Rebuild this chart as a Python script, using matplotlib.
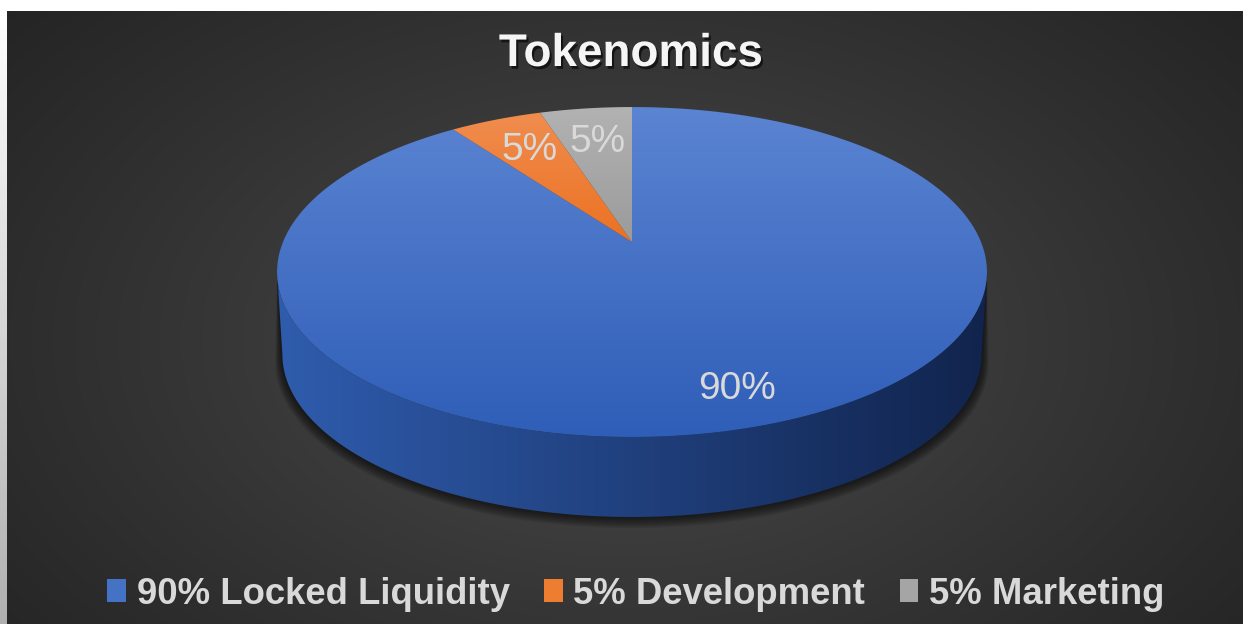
import numpy as np
import matplotlib
matplotlib.use("Agg")
import matplotlib.pyplot as plt
from matplotlib.patches import Polygon, Patch
import matplotlib.patheffects as pe

# Chart data
labels = ["90% Locked Liquidity", "5% Development", "5% Marketing"]
shares = [90, 5, 5]
pct_text = ["90%", "5%", "5%"]
title = "Tokenomics"

top_colors = [("#5b84d2", "#2f5eb8"), ("#f08d4f", "#ec7122"), ("#b2b2b2", "#9b9b9b")]
legend_colors = ["#4472c4", "#ed7d31", "#a5a5a5"]

W, H = 1243, 624
fig = plt.figure(figsize=(W / 100, H / 100), dpi=100)
fig.patch.set_facecolor("white")
ax = fig.add_axes([0, 0, 1, 1])
ax.set_xlim(0, W)
ax.set_ylim(H, 0)
ax.axis("off")

# background panel with radial gradient
x0, y0 = 7, 11
gx, gy = np.meshgrid(np.linspace(x0, W, 300), np.linspace(y0, H, 200))
rr = np.sqrt(((gx - 625) / 820) ** 2 + ((gy - 340) / 520) ** 2)
rr = np.clip(rr, 0, 1) ** 0.85
c_in, c_out = np.array([0x4e, 0x4e, 0x4e]) / 255, np.array([0x24, 0x24, 0x24]) / 255
bg = c_in[None, None, :] * (1 - rr[..., None]) + c_out[None, None, :] * rr[..., None]
ax.imshow(bg, extent=(x0, W, H, y0), aspect="auto", zorder=0, interpolation="bilinear")

# left edge strip
strip = np.linspace(1.0, 0.69, 100)[:, None, None] * np.ones((1, 1, 3))
ax.imshow(strip, extent=(0, x0, H, y0), aspect="auto", zorder=0)

# pie geometry (perspective projection of a disc)
cx, cy = 632, 242
A, B, p = 349, 159.5, 0.1818
depth = 83
shrink = 0.985


def proj(theta, r=1.0, drop=0.0, s=1.0):
    X = r * np.sin(theta)
    Y = r * np.cos(theta)
    w = 1 + p * Y
    return cx + s * A * X / w, cy - s * B * Y / w + drop


def gradient_fill(poly, c1, c2, horizontal=False, z=2):
    xs, ys = poly[:, 0], poly[:, 1]
    c1 = np.array(matplotlib.colors.to_rgb(c1))
    c2 = np.array(matplotlib.colors.to_rgb(c2))
    t = np.linspace(0, 1, 256)
    g = c1[None, :] * (1 - t[:, None]) + c2[None, :] * t[:, None]
    if horizontal:
        img = g[None, :, :]
    else:
        img = g[:, None, :]
    im = ax.imshow(img, extent=(xs.min(), xs.max(), ys.max(), ys.min()),
                   aspect="auto", zorder=z, interpolation="bilinear")
    patch = Polygon(poly, closed=True, facecolor="none", edgecolor="none", zorder=z)
    ax.add_patch(patch)
    im.set_clip_path(patch)


# side (front rim) between the silhouette points
t_side = np.arccos(-p)
ts = np.linspace(t_side, 2 * np.pi - t_side, 200)
tx, ty = proj(ts)
bx, by = proj(ts, drop=depth, s=shrink)
side = np.column_stack([np.concatenate([tx, bx[::-1]]), np.concatenate([ty, by[::-1]])])

# soft shadow under the rim
for k in range(8, 0, -1):
    sx, sy = proj(ts, drop=depth + k * 0.9, s=shrink + k * 0.0025)
    sh = np.column_stack([np.concatenate([tx, sx[::-1]]), np.concatenate([ty, sy[::-1]])])
    ax.add_patch(Polygon(sh, closed=True, facecolor="black", edgecolor="none",
                         alpha=0.09, zorder=1))

gradient_fill(side, "#2f5cad", "#11244d", horizontal=True, z=2)

# top faces
fracs = np.array(shares) / sum(shares)
start = 0.0
mids = []
for i, f in enumerate(fracs):
    end = start + f * 2 * np.pi
    ang = np.linspace(start, end, max(int(f * 400), 10))
    ax_, ay_ = proj(ang)
    poly = np.column_stack([np.concatenate([[cx], ax_]), np.concatenate([[cy], ay_])])
    gradient_fill(poly, top_colors[i][0], top_colors[i][1], z=3)
    mids.append((start + end) / 2)
    start = end

# data labels
for i, m in enumerate(mids):
    r = 0.83 if fracs[i] > 0.5 else 0.72
    lx, ly = proj(m, r=r)
    ax.text(lx, ly, pct_text[i], ha="center", va="center", fontsize=28,
            family="Liberation Sans", color="#d9d9d9", zorder=5)

# title
ax.text(631, 54, title, ha="center", va="center", fontsize=33, fontweight="bold",
        family="Liberation Sans", color="#f5f5f5", zorder=5,
        path_effects=[pe.withSimplePatchShadow(offset=(1.5, -2), shadow_rgbFace="black",
                                               alpha=0.6)])

# legend
handles = [Patch(facecolor=c, edgecolor="none") for c in legend_colors]
leg = ax.legend(handles, labels, loc="center", bbox_to_anchor=(636 / W, 1 - 594 / H),
                ncol=3, frameon=False, handlelength=0.5, handleheight=0.6,
                handletextpad=0.3, columnspacing=0.95,
                prop={"family": "Liberation Sans", "weight": "bold", "size": 26.3})
for t in leg.get_texts():
    t.set_color("#d9d9d9")

fig.savefig("out.png", dpi=100)
